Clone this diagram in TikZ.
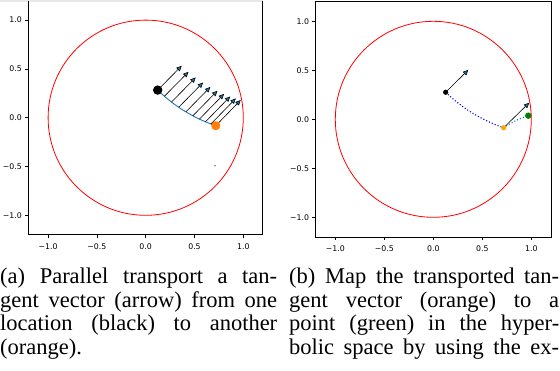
\documentclass[tikz,border=0pt]{standalone}
\usepackage{fontspec}
\setmainfont{Liberation Serif}
\newfontfamily\tickfont{DejaVu Sans}
\usetikzlibrary{arrows.meta}
\definecolor{mplblue}{HTML}{1F77B4}
\definecolor{mplorange}{HTML}{FF7F0E}
\definecolor{namedorange}{HTML}{FFA500}
\definecolor{mplgreen}{HTML}{008000}
\definecolor{mplred}{HTML}{FF0000}
\definecolor{pureblue}{HTML}{0000FF}
\tikzset{
  axframe/.style={draw=black, line width=0.8pt},
  tickmark/.style={line width=0.6pt},
  ticklab/.style={font=\tickfont\fontsize{7.8}{8}\selectfont, inner sep=0pt},
  disk/.style={draw=mplred, line width=0.8pt},
  vec/.style={draw=black, line width=0.6pt, -{Triangle[length=5.3pt,width=4.8pt,fill=mplblue]}},
  capline/.style={anchor=base west, inner sep=0pt, font=\fontsize{22.5}{23.5}\selectfont},
}
\begin{document}
\begin{tikzpicture}[x=1pt,y=1pt]
\useasboundingbox (0,0) rectangle (560,-370);
\fill[white] (0,0) rectangle (560,-370);

% ---------- left plot ----------
\fill[gray!18] (0,0) rectangle (263,-1.5);
\begin{scope}[shift={(145.7,-117.7)}, x=97.6pt, y=97.6pt]
  \draw[axframe] (-1.2,-1.2) -- (-1.2,1.2);
  \draw[axframe] (1.2,-1.2) -- (1.2,1.2);
  \draw[axframe] (-1.2,-1.2) -- (1.2,-1.2);
  \foreach \t/\l in {-1/{−1.0},-0.5/{−0.5},0/{0.0},0.5/{0.5},1/{1.0}}{
    \draw[tickmark] (\t,-1.2) -- ++(0pt,-3.5pt);
    \node[ticklab, anchor=north] at ([yshift=-8.5pt]\t,-1.2) {\l};
    \draw[tickmark] (-1.2,\t) -- ++(-3.5pt,0pt);
    \node[ticklab, anchor=east] at ([xshift=-6.5pt]-1.2,\t) {\l};
  }
  \draw[disk] (0,0) circle (1);
  \coordinate (pa) at (0.123,0.283);
  \coordinate (qa) at (0.718,-0.082);
  \draw[mplblue, line width=0.9pt] (pa) arc[start angle=-134.38, end angle=-108.67, radius=1.569182];
  \foreach \k in {0,...,9}{
    \pgfmathsetmacro\r{tanh(0.92433*\k/9)}
    \pgfmathsetmacro\a{\r*0.714743}
    \pgfmathsetmacro\b{-\r*0.699387}
    \pgfmathsetmacro\nx{\a+0.123}
    \pgfmathsetmacro\ny{\b+0.283}
    \pgfmathsetmacro\dx{1+0.123*\a+0.283*\b}
    \pgfmathsetmacro\dy{0.123*\b-0.283*\a}
    \pgfmathsetmacro\dd{\dx*\dx+\dy*\dy}
    \pgfmathsetmacro\zx{(\nx*\dx+\ny*\dy)/\dd}
    \pgfmathsetmacro\zy{(\ny*\dx-\nx*\dy)/\dd}
    \pgfmathsetmacro\vx{0.246+0.010*\k/9}
    \pgfmathsetmacro\vy{0.249+0.014*\k/9}
    \draw[vec] (\zx,\zy) -- ++(\vx,\vy);
  }
  \fill[black] (pa) circle (4.7pt);
  \fill[mplorange] (qa) circle (4.6pt);
  \fill[black] (0.710,-0.492) circle (0.6pt);
\end{scope}

% ---------- right plot ----------
\begin{scope}[shift={(433.3,-119.3)}, x=98pt, y=98pt]
  \draw[axframe] (-1.2,-1.2) rectangle (1.2,1.2);
  \foreach \t/\l in {-1/{−1.0},-0.5/{−0.5},0/{0.0},0.5/{0.5},1/{1.0}}{
    \draw[tickmark] (\t,-1.2) -- ++(0pt,-3.5pt);
    \node[ticklab, anchor=north] at ([yshift=-8.5pt]\t,-1.2) {\l};
    \draw[tickmark] (-1.2,\t) -- ++(-3.5pt,0pt);
    \node[ticklab, anchor=east] at ([xshift=-6.5pt]-1.2,\t) {\l};
  }
  \draw[disk] (0,0) circle (1);
  \coordinate (pb) at (0.126,0.276);
  \coordinate (qb) at (0.718,-0.086);
  \coordinate (gb) at (0.969,0.037);
  \draw[pureblue, line width=1.1pt, dash pattern=on 1.1pt off 2pt] (pb) arc[start angle=-134.07, end angle=-108.82, radius=1.587635];
  \draw[mplblue, line width=1.1pt, dash pattern=on 1.1pt off 2pt] (qb) to[out=33, in=198] (gb);
  \draw[vec] (pb) -- ++(0.231,0.228);
  \draw[vec] (qb) -- ++(0.261,0.255);
  \fill[black] (pb) circle (2.6pt);
  \fill[namedorange] (qb) circle (2.6pt);
  \fill[mplgreen] (gb) circle (3.2pt);
\end{scope}

% ---------- captions ----------
\node[capline] (a1) at (0,-283.5) {\makebox[277pt][s]{(a) Parallel transport a tan-}};
\node[capline] (a2) at (0,-307.2) {\makebox[277pt][s]{gent vector (arrow) from one}};
\node[capline] (a3) at (0,-330.9) {\makebox[277pt][s]{location (black) to another}};
\node[capline] (a4) at (0,-354.6) {(orange).};
\node[capline] (b1) at (289,-283.5) {\makebox[270pt][s]{(b) Map the transported tan-}};
\node[capline] (b2) at (289,-307.2) {\makebox[270pt][s]{gent vector (orange) to a}};
\node[capline] (b3) at (289,-330.9) {\makebox[270pt][s]{point (green) in the hyper-}};
\node[capline] (b4) at (289,-354.6) {\makebox[270pt][s]{bolic space by using the ex-}};
\end{tikzpicture}
\end{document}
